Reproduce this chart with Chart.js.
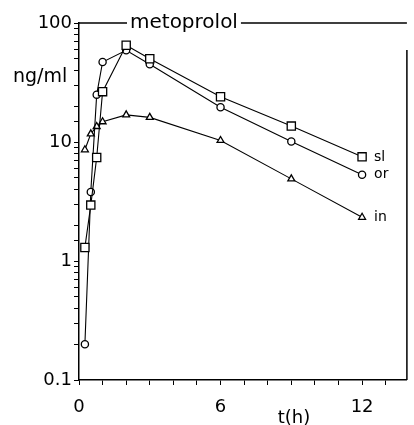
<!DOCTYPE html>
<html lang="en">
<head>
<meta charset="utf-8">
<script src="https://cdn.jsdelivr.net/npm/chart.js@4.4.0/dist/chart.umd.min.js"></script>
<style>
  html, body { margin: 0; padding: 0; background: #fff; }
  #wrap { width: 414px; height: 425px; }
</style>
</head>
<body>
<div id="wrap"><canvas id="content"></canvas></div>
<script>
// sampling times (h) and plasma levels (ng/ml)
var times = [0.25, 0.5, 0.75, 1, 2, 3, 6, 9, 12];
var slValues = [1.3, 2.95, 7.4, 26.5, 65, 50, 24, 13.6, 7.5];
var orValues = [0.2, 3.8, 25, 47, 59, 45, 19.6, 10.1, 5.3];
var inValues = [8.6, 11.7, 13.5, 14.8, 16.9, 16.1, 10.3, 4.9, 2.33];
var seriesNames = ["sl", "or", "in"];
var xLabels = [0, 6, 12];
var yLabels = [0.1, 1, 10, 100];

var FONT = "'DejaVu Sans', sans-serif";

function pts(vals) {
    return times.map(function (t, i) { return {x: t, y: vals[i]}; });
}

function ds(name, vals, style, r) {
    return {
        label: name,
        data: pts(vals),
        borderColor: "#000",
        borderWidth: 1.1,
        backgroundColor: "#fff",
        pointStyle: style,
        pointRadius: r,
        pointBorderWidth: 1.3,
        pointBorderColor: "#000",
        pointBackgroundColor: "#fff",
        tension: 0
    };
}

// frame, title and series labels drawn on top
var decor = {
    id: "decor",
    afterDraw: function (chart) {
        var c = chart.ctx, a = chart.chartArea;
        c.save();
        c.strokeStyle = "#000";
        c.fillStyle = "#000";
        c.lineWidth = 1.5;

        c.font = "20px " + FONT;
        var title = "metoprolol";
        var tx = a.left + 51;
        var tw = c.measureText(title).width;
        c.beginPath();
        c.moveTo(a.left, a.top);
        c.lineTo(tx - 3, a.top);
        c.moveTo(tx + tw + 3, a.top);
        c.lineTo(a.right, a.top);
        c.moveTo(a.right, a.top + 27);
        c.lineTo(a.right, a.bottom);
        c.stroke();
        c.textBaseline = "alphabetic";
        c.textAlign = "left";
        c.fillText(title, tx, a.top + 5);

        c.font = "19px " + FONT;
        c.textBaseline = "middle";
        c.fillText("ng/ml", 13, 77);

        c.font = "18px " + FONT;
        c.textAlign = "center";
        c.fillText("t(h)", 294, 418);

        c.font = "14px " + FONT;
        c.textAlign = "left";
        var xs = chart.scales.x, ys = chart.scales.y;
        var last = times.length - 1;
        [slValues, orValues, inValues].forEach(function (vals, i) {
            c.fillText(seriesNames[i], xs.getPixelForValue(times[last]) + 12,
                       ys.getPixelForValue(vals[last]));
        });
        c.restore();
    }
};

var ctx = document.getElementById("content").getContext("2d");
new Chart(ctx, {
    type: "line",
    data: {
        datasets: [
            ds(seriesNames[0], slValues, "rect", 5.8),
            ds(seriesNames[1], orValues, "circle", 3.6),
            ds(seriesNames[2], inValues, "triangle", 4)
        ]
    },
    options: {
        responsive: true,
        maintainAspectRatio: false,
        animation: false,
        layout: {padding: {top: 23, right: 3, left: 0, bottom: 0}},
        plugins: {
            legend: {display: false},
            tooltip: {enabled: false}
        },
        scales: {
            x: {
                type: "linear",
                min: 0,
                max: 13.9,
                afterFit: function (s) { s.height = 45; },
                border: {display: true, color: "#000", width: 1.5},
                grid: {drawOnChartArea: false, drawTicks: true, tickLength: 5, color: "#000"},
                ticks: {
                    stepSize: 1,
                    includeBounds: false,
                    autoSkip: false,
                    maxRotation: 0,
                    padding: 12,
                    color: "#000",
                    font: {family: FONT, size: 18},
                    callback: function (v) {
                        return xLabels.indexOf(v) >= 0 ? String(v) : "";
                    }
                }
            },
            y: {
                type: "logarithmic",
                min: 0.1,
                max: 100,
                afterFit: function (s) { s.width = 79; },
                border: {display: true, color: "#000", width: 1.5},
                grid: {drawOnChartArea: false, drawTicks: true, tickLength: 5, color: "#000"},
                ticks: {
                    autoSkip: false,
                    padding: 2,
                    color: "#000",
                    font: {family: FONT, size: 18},
                    callback: function (v) {
                        for (var i = 0; i < yLabels.length; i++) {
                            if (Math.abs(v - yLabels[i]) < 1e-9) return String(yLabels[i]);
                        }
                        return "";
                    }
                }
            }
        }
    },
    plugins: [decor]
});
</script>
</body>
</html>
